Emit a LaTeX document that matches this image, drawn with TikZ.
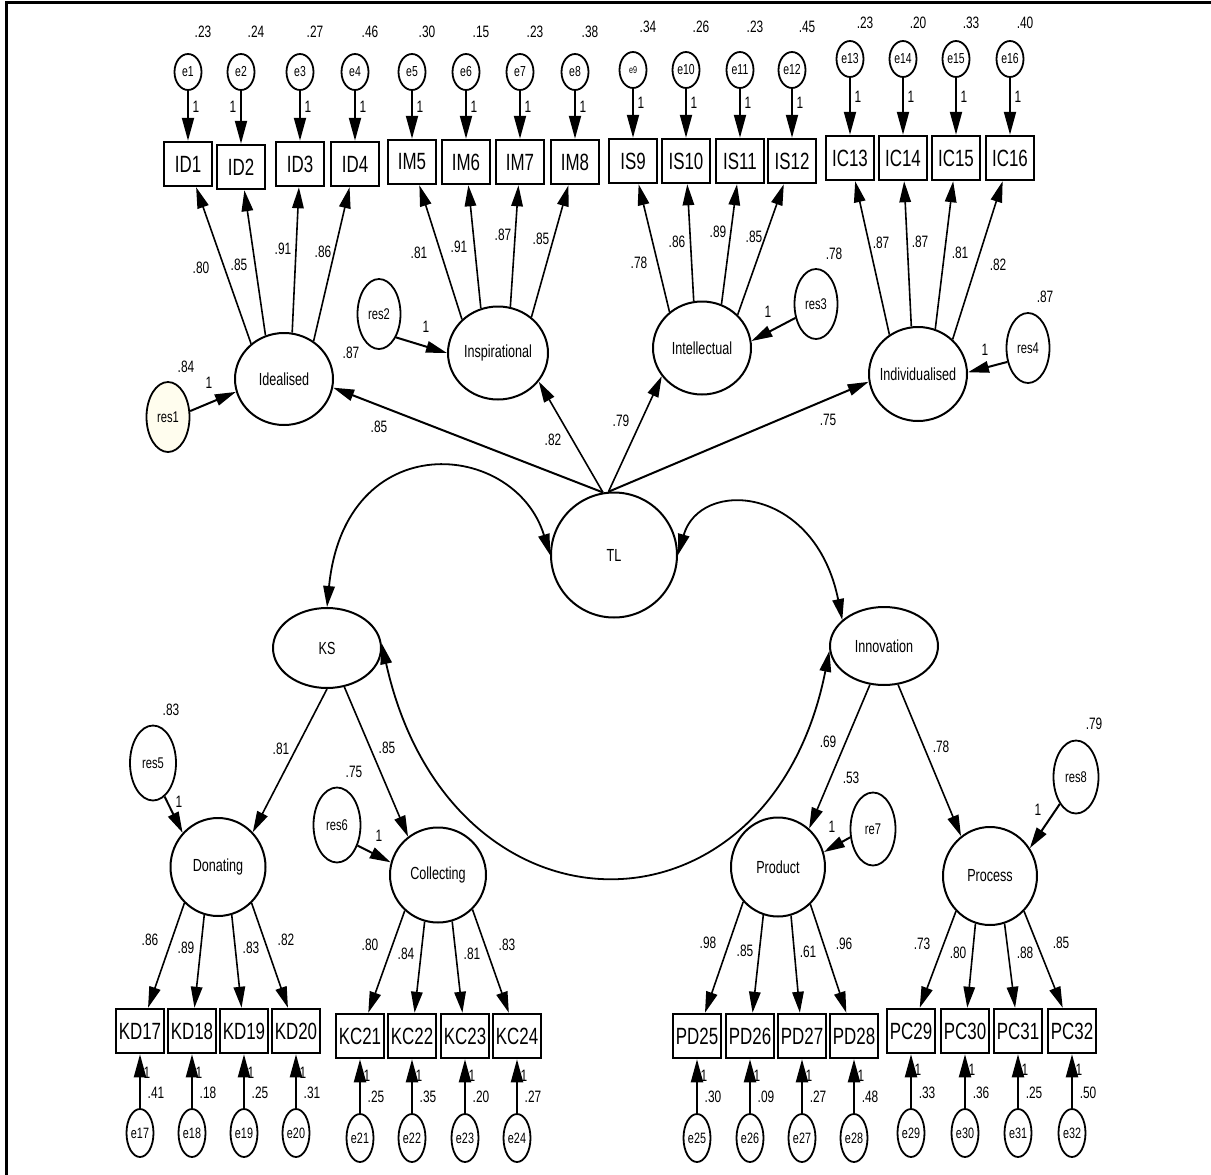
\documentclass[tikz,border=0pt]{standalone}
\usepackage{fontspec}
\setmainfont{Liberation Sans}[FakeStretch=0.72]
\usetikzlibrary{arrows.meta,shapes.geometric}
\begin{document}
\begin{tikzpicture}[x=1pt,y=-1pt,
  lat/.style={ellipse,draw,line width=2pt,inner sep=-14pt,font=\fontsize{17.5}{18}\selectfont},
  obs/.style={rectangle,draw,line width=2.5pt,minimum width=48pt,minimum height=44pt,inner sep=0pt,font=\fontsize{23.5}{24}\selectfont},
  err/.style={ellipse,draw,line width=1.8pt,minimum width=27pt,minimum height=36pt,inner sep=-2pt,font=\fontsize{14.5}{15}\selectfont},
  errb/.style={err,minimum height=48pt,font=\fontsize{15}{15}\selectfont},
  resid/.style={ellipse,draw,line width=1.8pt,minimum width=44pt,minimum height=70pt,inner sep=-2pt,font=\fontsize{15.5}{16}\selectfont},
  num/.style={font=\fontsize{16.5}{17}\selectfont,inner sep=0pt},
  pth/.style={-{Triangle[length=21pt,width=11.5pt]},line width=1.6pt},
  epth/.style={-{Triangle[length=23pt,width=12pt]},line width=2pt},
  cov/.style={{Triangle[length=21pt,width=11.5pt]}-{Triangle[length=21pt,width=11.5pt]},line width=1.8pt},
]
\useasboundingbox (0,0) rectangle (1211,1175);
% frame
\draw[line width=3pt] (5,2.5) -- (1211,2.5);
\draw[line width=3pt] (6,1) -- (6,1175);

% top indicators with errors
\foreach \i/\lab/\t/\x/\y/\ey/\vy/\oy/\ox/\v in {
 1/ID1/e1/188/164/72/32/107/8/.23, 2/ID2/e2/241/167/72/32/107/-8/.24,
 3/ID3/e3/300/164/72/32/107/8/.27, 4/ID4/e4/355/164/72/32/107/8/.46,
 5/IM5/e5/412/162/72/32/107/8/.30, 6/IM6/e6/466/162/72/32/107/8/.15,
 7/IM7/e7/520/162/72/32/107/8/.23, 8/IM8/e8/575/162/72/32/107/8/.38,
 9/IS9/{\fontsize{10}{10}\selectfont e9}/633/161/70/27/103/8/.34, 10/IS10/e10/686/161/70/27/103/8/.26,
 11/IS11/e11/740/161/70/27/103/8/.23, 12/IS12/e12/792/161/70/27/103/8/.45,
 13/IC13/e13/850/158/59/23/97/8/.23, 14/IC14/e14/903/158/59/23/97/8/.20,
 15/IC15/e15/956/158/59/23/97/8/.33, 16/IC16/e16/1010/158/59/23/97/8/.40}{
  \node[obs] (b\i) at (\x,\y) {\lab};
  \node[err] (e\i) at (\x,\ey) {\t};
  \draw[epth] (e\i) -- (b\i);
  \node[num] (v\i) at (\x+15,\vy) {\v};
  \node[num] (o\i) at (\x+\ox,\oy) {1};
}

% bottom indicators with errors
\foreach \i/\lab/\x/\y/\ey/\oy/\vy/\v in {
 17/KD17/140/1031/1133/1073/1093/.41, 18/KD18/192/1031/1133/1073/1093/.18,
 19/KD19/244/1031/1133/1073/1093/.25, 20/KD20/296/1031/1133/1073/1093/.31,
 21/KC21/360/1036/1138/1076/1097/.25, 22/KC22/412/1036/1138/1076/1097/.35,
 23/KC23/465/1036/1138/1076/1097/.20, 24/KC24/517/1036/1138/1076/1097/.27,
 25/PD25/697/1036/1138/1076/1097/.30, 26/PD26/750/1036/1138/1076/1097/.09,
 27/PD27/802/1036/1138/1076/1097/.27, 28/PD28/854/1036/1138/1076/1097/.48,
 29/PC29/911/1031/1133/1070/1093/.33, 30/PC30/965/1031/1133/1070/1093/.36,
 31/PC31/1018/1031/1133/1070/1093/.25, 32/PC32/1072/1031/1133/1070/1093/.50}{
  \node[obs] (b\i) at (\x,\y) {\lab};
  \node[errb] (e\i) at (\x,\ey) {e\i};
  \draw[epth] (e\i) -- (b\i);
  \node[num] (o\i) at (\x+7,\oy) {1};
  \node[num] (v\i) at (\x+16,\vy) {\v};
}

% latent variables
\node[lat,minimum width=98pt,minimum height=92pt] (Idealised) at (284,379) {Idealised};
\node[lat,minimum width=100pt,minimum height=93pt] (Inspirational) at (498,353) {Inspirational};
\node[lat,minimum width=98pt,minimum height=93pt] (Intellectual) at (702,348) {Intellectual};
\node[lat,minimum width=98pt,minimum height=94pt] (Individualised) at (918,374) {Individualised};
\node[lat,minimum width=126pt,minimum height=125pt] (TL) at (614,555) {TL};
\node[lat,minimum width=108pt,minimum height=80pt] (KS) at (327,648) {KS};
\node[lat,minimum width=108pt,minimum height=78pt] (Innovation) at (884,646) {Innovation};
\node[lat,minimum width=95pt,minimum height=98pt] (Donating) at (218,867) {Donating};
\node[lat,minimum width=96pt,minimum height=95pt] (Collecting) at (438,875) {Collecting};
\node[lat,minimum width=94pt,minimum height=99pt] (Product) at (778,867) {Product};
\node[lat,minimum width=94pt,minimum height=98pt] (Process) at (990,876) {Process};

% residuals
\node[resid,fill={rgb,255:red,255;green,253;blue,238},minimum width=43pt] (res1) at (168,417) {res1};
\node[resid,minimum width=43pt] (res2) at (379,314) {res2};
\node[resid,minimum width=43pt] (res3) at (816,304) {res3};
\node[resid,minimum width=43pt] (res4) at (1028,348) {res4};
\node[resid,minimum width=46pt,minimum height=75pt] (res5) at (153,763) {res5};
\node[resid,minimum width=47pt,minimum height=75pt] (res6) at (337,825) {res6};
\node[resid,minimum width=45pt,minimum height=73pt] (re7) at (873,829) {re7};
\node[resid,minimum width=45pt,minimum height=73pt] (res8) at (1076,777) {res8};

% loadings: first-order factors -> indicators
\draw[pth] (Idealised.133) -- (b1);
\draw[pth] (Idealised.113) -- (b2);
\draw[pth] (Idealised.80) -- (b3);
\draw[pth] (Idealised.52) -- (b4);
\draw[pth] (Inspirational.137) -- (b5);
\draw[pth] (Inspirational.111) -- (b6);
\draw[pth] (Inspirational.75) -- (b7);
\draw[pth] (Inspirational.47) -- (b8);
\draw[pth] (Intellectual.132) -- (b9);
\draw[pth] (Intellectual.100) -- (b10);
\draw[pth] (Intellectual.66) -- (b11);
\draw[pth] (Intellectual.43) -- (b12);
\draw[pth] (Individualised.126) -- (b13);
\draw[pth] (Individualised.98) -- (b14);
\draw[pth] (Individualised.69) -- (b15);
\draw[pth] (Individualised.45) -- (b16);
\draw[pth] (Donating.227) -- (b17);
\draw[pth] (Donating.254) -- (b18);
\draw[pth] (Donating.286) -- (b19);
\draw[pth] (Donating.313) -- (b20);
\draw[pth] (Collecting.227) -- (b21);
\draw[pth] (Collecting.254) -- (b22);
\draw[pth] (Collecting.287) -- (b23);
\draw[pth] (Collecting.315) -- (b24);
\draw[pth] (Product.225) -- (b25);
\draw[pth] (Product.253) -- (b26);
\draw[pth] (Product.285) -- (b27);
\draw[pth] (Product.311) -- (b28);
\draw[pth] (Process.226) -- (b29);
\draw[pth] (Process.253) -- (b30);
\draw[pth] (Process.287) -- (b31);
\draw[pth] (Process.314) -- (b32);

% loading labels
\foreach \x/\y/\t in {201/268/.80, 239/265/.85, 283/249/.91, 323/252/.86,
 419/253/.81, 459/247/.91, 503/235/.87, 541/239/.85,
 639/263/.78, 677/242/.86, 718/232/.89, 754/237/.85,
 881/243/.87, 920/242/.87, 960/253/.81, 998/265/.82,
 150/940/.86, 186/948/.89, 251/948/.83, 286/940/.82,
 370/945/.80, 406/954/.84, 472/954/.81, 507/945/.83,
 708/943/.98, 745/951/.85, 808/952/.61, 844/944/.96,
 922/944/.73, 958/953/.80, 1025/953/.88, 1061/943/.85}{
  \node[num] at (\x,\y) {\t};
}

% second-order paths
\draw[pth,line width=2pt] (TL.100) -- (Idealised.350);
\draw[pth] (TL.100) -- (Inspirational.325);
\draw[pth] (TL.95) -- (Intellectual.215);
\draw[pth,line width=2pt] (TL.95) -- (Individualised.189);
\draw[pth] (KS.270) -- (Donating.45);
\draw[pth] (KS.294) -- (Collecting.128);
\draw[pth] (Innovation.250) -- (Product.51);
\draw[pth] (Innovation.290) -- (Process.126);

\node[num] (l1) at (379,427) {.85};
\node[num] (l2) at (553,440) {.82};
\node[num] (l3) at (621,421) {.79};
\node[num] (l4) at (828,420) {.75};
\node[num] (l5) at (281,749) {.81};
\node[num] (l6) at (387,748) {.85};
\node[num] (l7) at (828,742) {.69};
\node[num] (l8) at (941,747) {.78};

% residual paths
\draw[pth,line width=2pt] (res1.15) -- (Idealised.195);
\draw[pth,line width=2pt] (res2.306) -- (Inspirational.180);
\draw[pth,line width=2pt] (res3.214) -- (Intellectual.8);
\draw[pth,line width=2pt] (res4.214) -- (Individualised.2);
\draw[pth,line width=2pt] (res5.289) -- (Donating.136);
\draw[pth,line width=2pt] (res6.315) -- (Collecting.165);
\draw[pth,line width=2pt] (re7.200) -- (Product.18);
\draw[pth,line width=2pt] (res8.239) -- (Process.35);

\node[num] at (186,367) {.84};  \node[num] at (209,383) {1};
\node[num] at (351,353) {.87};  \node[num] at (426,327) {1};
\node[num] at (834,254) {.78};  \node[num] at (768,312) {1};
\node[num] at (1045,297) {.87}; \node[num] at (985,350) {1};
\node[num] at (171,710) {.83};  \node[num] at (179,802) {1};
\node[num] at (354,772) {.75};  \node[num] at (379,836) {1};
\node[num] at (851,778) {.53};  \node[num] at (832,827) {1};
\node[num] at (1094,724) {.79}; \node[num] at (1038,810) {1};

% covariances
\draw[cov] (KS.north) .. controls (345,425) and (515,440) .. (TL.west);
\draw[cov] (TL.east) .. controls (700,478) and (815,485) .. (Innovation.148);
\draw[cov] (KS.5) .. controls (450,950) and (770,950) .. (Innovation.185);
\end{tikzpicture}
\end{document}
